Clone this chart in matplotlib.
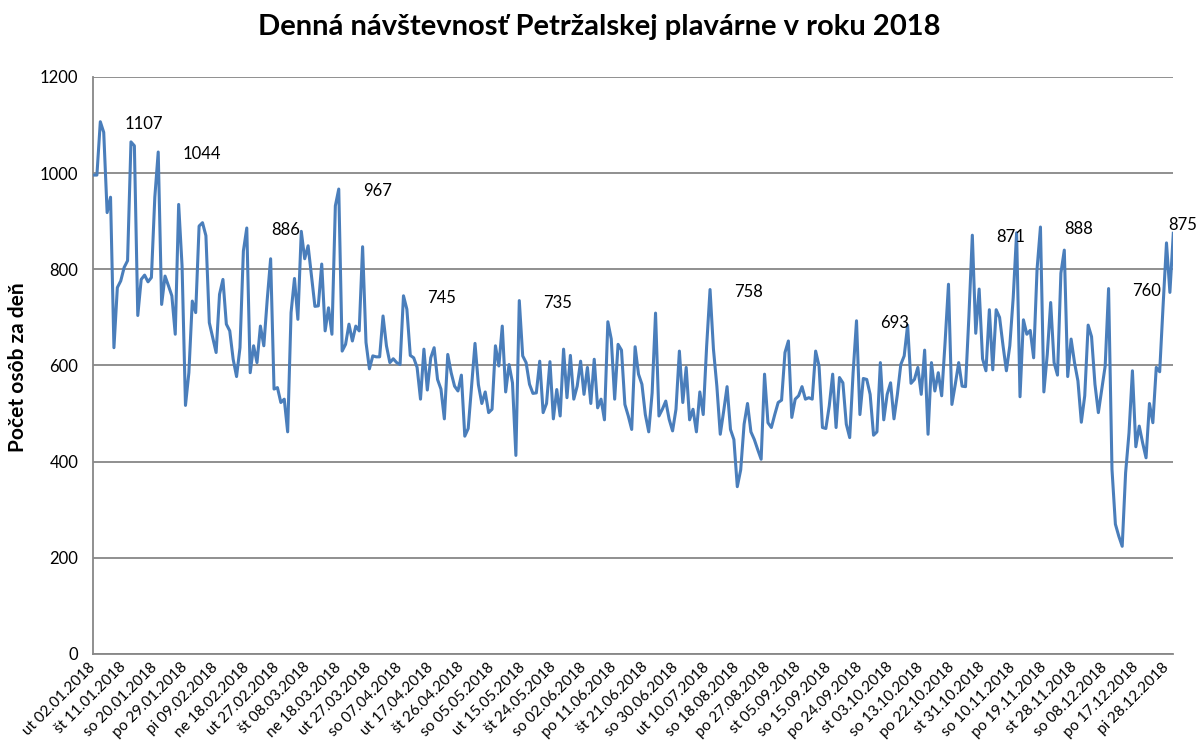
import numpy as np
import matplotlib.pyplot as plt

plt.rcParams['font.family'] = ['Lato', 'DejaVu Sans']

title = 'Denná návštevnosť Petržalskej plavárne v roku 2018'
ylabel = 'Počet osôb za deň'

# every 9th open day is labelled on the category axis
tick_dates = ['ut 02.01.2018', 'št 11.01.2018', 'so 20.01.2018', 'po 29.01.2018',
              'pi 09.02.2018', 'ne 18.02.2018', 'ut 27.02.2018', 'št 08.03.2018',
              'ne 18.03.2018', 'ut 27.03.2018', 'so 07.04.2018', 'ut 17.04.2018',
              'št 26.04.2018', 'so 05.05.2018', 'ut 15.05.2018', 'št 24.05.2018',
              'so 02.06.2018', 'po 11.06.2018', 'št 21.06.2018', 'so 30.06.2018',
              'ut 10.07.2018', 'so 18.08.2018', 'po 27.08.2018', 'st 05.09.2018',
              'so 15.09.2018', 'po 24.09.2018', 'st 03.10.2018', 'so 13.10.2018',
              'po 22.10.2018', 'st 31.10.2018', 'so 10.11.2018', 'po 19.11.2018',
              'st 28.11.2018', 'so 08.12.2018', 'po 17.12.2018', 'pi 28.12.2018']

visitors = [
    996, 996, 1107, 1085, 918, 950, 637, 762, 776, 804,
    818, 1065, 1057, 704, 779, 788, 774, 783, 950, 1044,
    727, 786, 766, 745, 665, 935, 807, 517, 585, 734,
    710, 890, 897, 870, 689, 658, 627, 748, 779, 686,
    672, 613, 577, 637, 838, 886, 585, 641, 606, 682,
    641, 737, 822, 551, 554, 523, 530, 462, 710, 781,
    696, 879, 822, 849, 786, 723, 724, 811, 672, 720,
    665, 932, 967, 630, 644, 686, 651, 682, 672, 847,
    648, 593, 620, 618, 618, 703, 641, 606, 614, 606,
    602, 745, 717, 621, 616, 596, 530, 634, 549, 616,
    637, 571, 551, 489, 623, 585, 557, 547, 580, 453,
    469, 557, 646, 560, 521, 545, 502, 509, 641, 599,
    682, 545, 602, 564, 413, 735, 620, 606, 561, 542,
    543, 609, 502, 521, 608, 489, 550, 495, 634, 533,
    621, 530, 557, 609, 540, 596, 521, 613, 512, 530,
    487, 691, 655, 530, 644, 632, 519, 495, 467, 639,
    582, 561, 498, 462, 543, 709, 495, 509, 526, 488,
    464, 509, 630, 523, 596, 487, 509, 462, 545, 498,
    640, 758, 634, 557, 457, 505, 556, 467, 446, 348,
    383, 478, 521, 462, 446, 425, 405, 582, 481, 471,
    498, 523, 528, 627, 651, 492, 530, 537, 556, 530,
    533, 530, 630, 599, 471, 469, 516, 582, 471, 575,
    564, 478, 450, 585, 693, 498, 573, 571, 540, 455,
    462, 606, 487, 540, 564, 489, 540, 602, 620, 684,
    563, 571, 596, 540, 632, 457, 606, 547, 585, 537,
    648, 769, 519, 561, 606, 557, 556, 703, 871, 667,
    759, 614, 589, 716, 591, 716, 700, 642, 589, 641,
    741, 876, 535, 695, 665, 673, 616, 800, 888, 545,
    623, 731, 606, 580, 792, 840, 577, 655, 606, 568,
    482, 537, 684, 660, 561, 502, 550, 599, 760, 384,
    270, 245, 224, 377, 460, 589, 431, 474, 439, 408,
    521, 481, 596, 587, 724, 855, 752, 875,
]

# days that carry a value label
labelled_days = [2, 19, 45, 72, 91, 125, 181, 224, 258, 278, 298, 317]

W, H = 1198, 744
fig = plt.figure(figsize=(W / 100, H / 100), dpi=100)
left, right, top, bottom = 93.5, 1173.3, 77, 654
ax = fig.add_axes([left / W, 1 - bottom / H, (right - left) / W, (bottom - top) / H])

grey = '#878787'
x = np.arange(len(visitors))
ax.plot(x, visitors, color='#4a7ebb', lw=2.2, solid_joinstyle='round', zorder=3)

ax.set_xlim(0, len(visitors) - 1)
ax.set_ylim(0, 1200)
ax.set_yticks(range(0, 1201, 200))
ax.set_xticks(range(0, len(visitors), 9))
ax.set_xticklabels(tick_dates, rotation=45, ha='right', va='center',
                   rotation_mode='anchor', fontsize=11)
ax.tick_params(axis='x', length=0, pad=8)
ax.tick_params(axis='y', length=0, pad=11, labelsize=12)

ax.grid(axis='y', color=grey, lw=1.3)
ax.set_axisbelow(True)
for s in ['top', 'right']:
    ax.spines[s].set_visible(False)
for s in ['left', 'bottom']:
    ax.spines[s].set_color(grey)
    ax.spines[s].set_linewidth(1.3)

for i in labelled_days:
    if i == len(visitors) - 1:
        ax.annotate(str(visitors[i]), (i, visitors[i]), xytext=(24, 8),
                    textcoords='offset pixels', ha='right', va='center',
                    fontsize=12, annotation_clip=False)
    else:
        ax.annotate(str(visitors[i]), (i, visitors[i]), xytext=(24, -2),
                    textcoords='offset pixels', ha='left', va='center',
                    fontsize=12, annotation_clip=False)

fig.text(0.5, 1 - 27 / H, title, ha='center', va='center',
         fontsize=21, fontweight='bold')
fig.text(18 / W, 1 - 367 / H, ylabel, rotation=90, ha='center', va='center',
         fontsize=15, fontweight='bold')

fig.savefig('out.png', dpi=100)
